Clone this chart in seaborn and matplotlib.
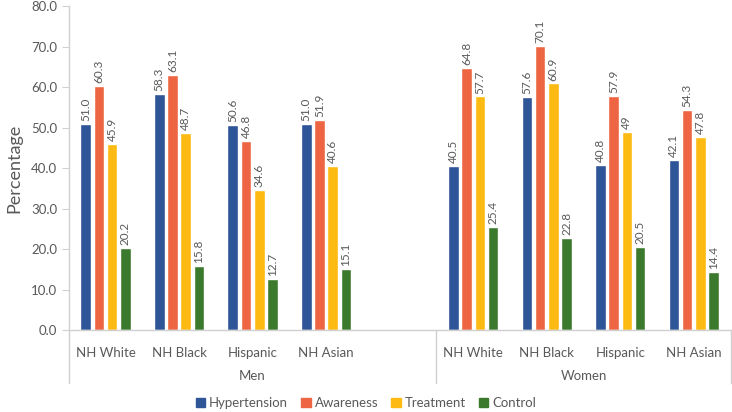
import matplotlib
matplotlib.use("Agg")
import matplotlib.pyplot as plt
import matplotlib.transforms as mtransforms
import pandas as pd
import seaborn as sns

# ---- data ----
groups = ["Men", "Women"]
races = ["NH White", "NH Black", "Hispanic", "NH Asian"]
measures = ["Hypertension", "Awareness", "Treatment", "Control"]

men_hypertension = [51.0, 58.3, 50.6, 51.0]
men_awareness = [60.3, 63.1, 46.8, 51.9]
men_treatment = [45.9, 48.7, 34.6, 40.6]
men_control = [20.2, 15.8, 12.7, 15.1]

women_hypertension = [40.5, 57.6, 40.8, 42.1]
women_awareness = [64.8, 70.1, 57.9, 54.3]
women_treatment = [57.7, 60.9, 49.0, 47.8]
women_control = [25.4, 22.8, 20.5, 14.4]

# label text as printed on the chart (one value shown without decimals)
women_treatment_labels = ["57.7", "60.9", "49", "47.8"]

colors = ["#2E5597", "#EE6543", "#FDBA12", "#3B7A2C"]

sns.set_style("white")
plt.rcParams["font.family"] = ["Lato", "DejaVu Sans"]
TXT = "#595959"

rows = []
men_vals = [men_hypertension, men_awareness, men_treatment, men_control]
women_vals = [women_hypertension, women_awareness, women_treatment, women_control]
for g, vals in zip(groups, [men_vals, women_vals]):
    for m, series in zip(measures, vals):
        for r, v in zip(races, series):
            rows.append({"slot": f"{g}|{r}", "measure": m, "value": v})
df = pd.DataFrame(rows)

# Men group keeps an empty slot after its four categories
order = [f"Men|{r}" for r in races] + ["gap"] + [f"Women|{r}" for r in races]

labels = {}
for g, vals in zip(groups, [men_vals, women_vals]):
    for m, series in zip(measures, vals):
        for r, v in zip(races, series):
            labels[(f"{g}|{r}", m)] = f"{v:.1f}"
for r, t in zip(races, women_treatment_labels):
    labels[(f"Women|{r}", "Treatment")] = t

fig = plt.figure(figsize=(7.32, 4.12), dpi=100)
ax = fig.add_axes([0.094, 0.199, 0.904, 0.786])

sns.barplot(data=df, x="slot", y="value", hue="measure", order=order,
            hue_order=measures, palette=colors, width=0.72, gap=0.2,
            ax=ax, legend=False, saturation=1)

for cont, m in zip(ax.containers, measures):
    texts = []
    for bar in cont:
        idx = int(round(bar.get_x() + bar.get_width() / 2))
        texts.append(labels.get((order[idx], m), ""))
    ax.bar_label(cont, labels=texts, rotation=90, padding=2,
                 fontsize=8.5, color=TXT)

ax.set_ylim(0, 80)
ax.set_yticks(range(0, 81, 10))
ax.set_yticklabels([f"{v:.1f}" for v in range(0, 81, 10)], fontsize=9.5, color=TXT)
ax.set_xlim(-0.5, len(order) - 0.5)
ax.set_xticks([i for i, s in enumerate(order) if s != "gap"])
ax.set_xticklabels([s.split("|")[1] for s in order if s != "gap"], fontsize=9.5, color=TXT)
ax.tick_params(axis="x", length=0, pad=12)
ax.tick_params(axis="y", length=5, color="#D0D0D0", left=True, direction="out")
ax.set_xlabel("")
ax.set_ylabel("Percentage", fontsize=13, color=TXT, labelpad=6)

for side in ["top", "right"]:
    ax.spines[side].set_visible(False)
for side in ["left", "bottom"]:
    ax.spines[side].set_color("#D0D0D0")
    ax.spines[side].set_linewidth(1)

# multi-level category axis: group separators and group names
trans = mtransforms.blended_transform_factory(ax.transData, ax.transAxes)
for xs in [-0.5, 4.5, 8.5]:
    ax.plot([xs, xs], [0, -0.164], transform=trans, color="#D0D0D0",
            lw=1, clip_on=False)
ax.text(2.0, -0.142, "Men", transform=trans, ha="center", va="center",
        fontsize=9.5, color=TXT)
ax.text(6.5, -0.142, "Women", transform=trans, ha="center", va="center",
        fontsize=9.5, color=TXT)

handles = [plt.Rectangle((0, 0), 1, 1, color=c) for c in colors]
fig.legend(handles, measures, loc="lower center", bbox_to_anchor=(0.5, -0.022),
           ncol=4, frameon=False, fontsize=9.5, handlelength=0.7, handleheight=0.7,
           handletextpad=0.3, columnspacing=1.0, labelcolor=TXT)

fig.savefig("out.png", dpi=100)
